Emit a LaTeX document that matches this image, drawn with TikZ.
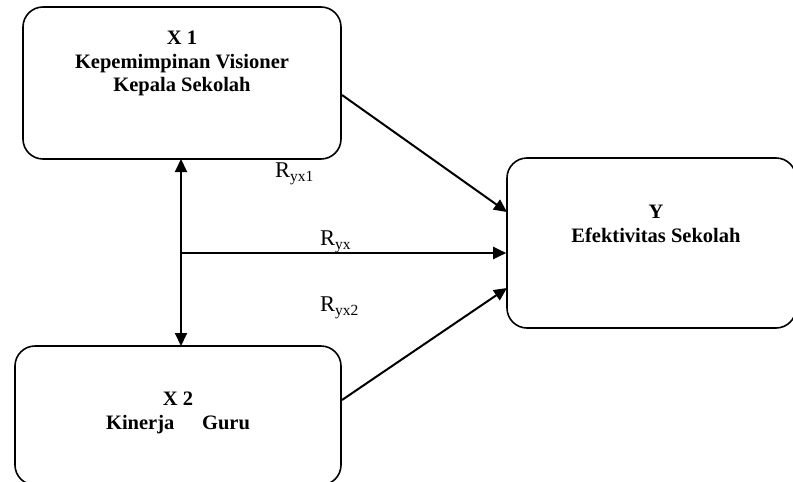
\documentclass[tikz,border=0pt]{standalone}
\usepackage{fontspec}
\setmainfont{Liberation Serif}
\usetikzlibrary{arrows.meta}
\tikzset{
  box/.style={draw, line width=1.6pt, rounded corners=20pt, inner sep=0pt},
  boxtext/.style={font=\fontsize{20.5}{23.5}\selectfont\bfseries, align=center, inner sep=0pt, anchor=north},
  rlabel/.style={font=\fontsize{22.5}{24}\selectfont, inner sep=0pt},
  arr/.style={line width=2pt, -{Triangle[length=13pt,width=12pt]}},
  darr/.style={line width=2pt, {Triangle[length=13pt,width=12pt]}-{Triangle[length=13pt,width=12pt]}}
}
\newcommand{\rsub}[1]{R\raisebox{-0.45ex}{\fontsize{15.5}{16}\selectfont #1}}
\begin{document}
\begin{tikzpicture}[x=1pt,y=-1pt]
\useasboundingbox (0,0) rectangle (793,482);
\node[box, minimum width=318pt, minimum height=152pt] (x1) at (182,83) {};
\node[box, minimum width=326pt, minimum height=139pt] (x2) at (178,415.5) {};
\node[box, minimum width=289pt, minimum height=170pt] (y) at (651.5,243) {};
\node[boxtext] (t1) at (182,31) {X 1\\Kepemimpinan Visioner\\Kepala Sekolah};
\node[boxtext] (t2) at (178,392) {X 2\\Kinerja\hspace{1.35em}Guru};
\node[boxtext] (t3) at (656,205) {Y\\Efektivitas Sekolah};
\coordinate (v1) at (181,159);
\coordinate (v2) at (181,346);
\coordinate (m) at (181,253);
\draw[darr] (v1) -- (v2);
\draw[arr] (m) -- (m -| y.west);
\draw[arr] (342,95) -- (507,212);
\draw[arr] (342,400) -- (507,288);
\node[rlabel, anchor=base west] (r1) at (275,177) {\rsub{yx1}};
\node[rlabel, anchor=base west] (r0) at (320,245) {\rsub{yx}};
\node[rlabel, anchor=base west] (r2) at (320,311) {\rsub{yx2}};
\end{tikzpicture}
\end{document}
